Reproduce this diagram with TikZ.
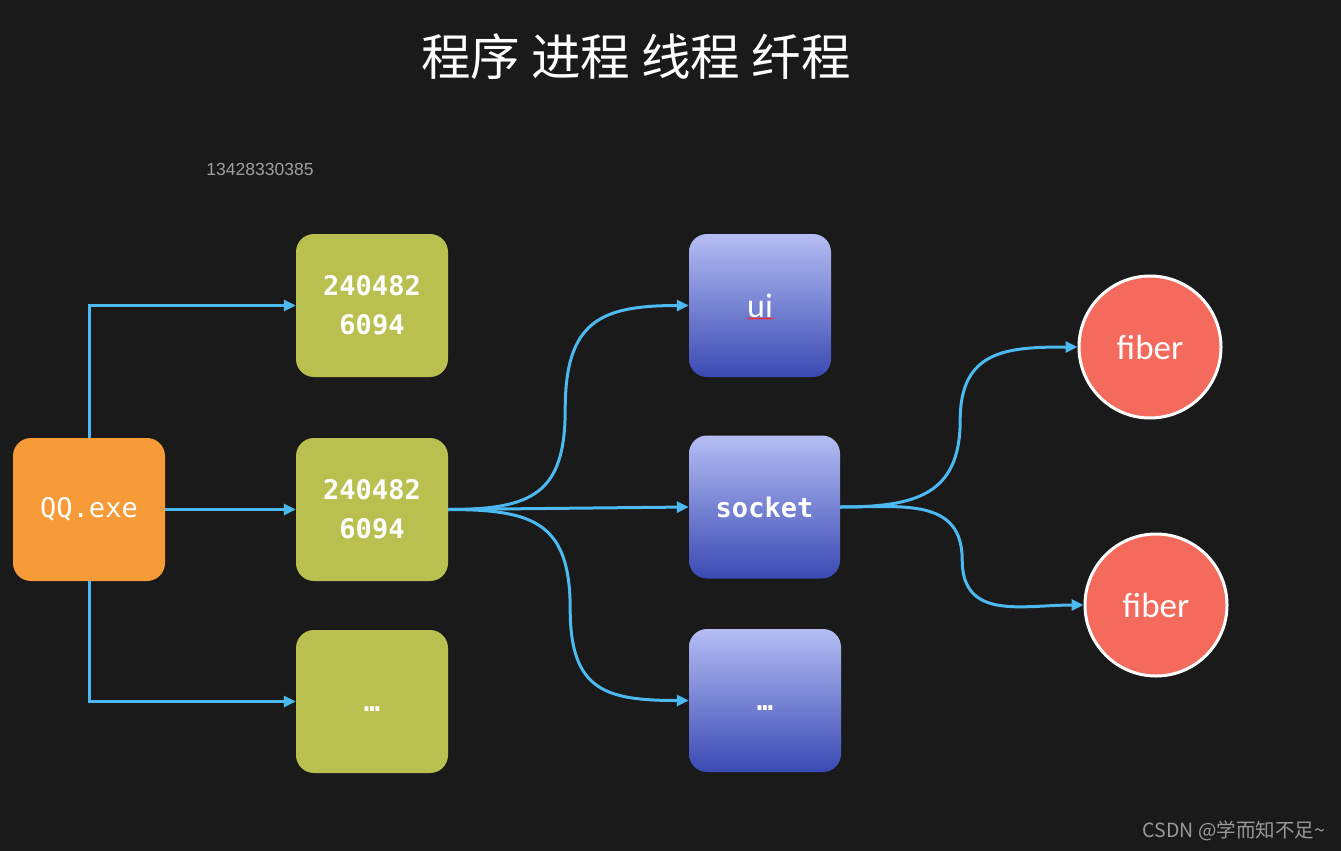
\documentclass[tikz,border=0pt]{standalone}
\usepackage{fontspec}
\setmonofont{DejaVu Sans Mono}
\newfontfamily\cjkfont{Noto Sans CJK SC}
\newfontfamily\labelfont{Carlito}
\newfontfamily\smallfont{Liberation Sans}
\usetikzlibrary{arrows.meta,decorations.pathmorphing}
\definecolor{board}{HTML}{1A1A1A}
\definecolor{qqorange}{HTML}{F79A38}
\definecolor{procgreen}{HTML}{BAC04F}
\definecolor{threadtop}{HTML}{B4BDF3}
\definecolor{threadbot}{HTML}{3A4AB3}
\definecolor{fiberred}{HTML}{F46A5C}
\definecolor{linkblue}{HTML}{4DB9F1}
\newcommand{\moredots}{\smash{\raisebox{-10pt}{…}}}
\begin{document}
\begin{tikzpicture}[x=1pt,y=1pt,
  box/.style={rounded corners=18pt,minimum width=152pt,minimum height=143pt,inner sep=0pt,text=white,align=center},
  exebox/.style={box,fill=qqorange,font=\ttfamily\fontsize{27}{32}\selectfont},
  procbox/.style={box,fill=procgreen,font=\ttfamily\bfseries\fontsize{27}{39}\selectfont},
  threadbox/.style={box,top color=threadtop,bottom color=threadbot,font=\ttfamily\bfseries\fontsize{27}{32}\selectfont},
  fiberball/.style={circle,draw=white,line width=3pt,fill=fiberred,minimum size=142pt,inner sep=0pt,text=white,font=\labelfont\fontsize{35}{38}\selectfont},
  link/.style={draw=linkblue,line width=3pt,-{Triangle[length=12pt,width=11pt]}}]
\fill[board] (0,0) rectangle (1341,-851);
\useasboundingbox (0,0) rectangle (1341,-851);
% title and small texts
\node[text=white,font=\cjkfont\fontsize{49.5}{50}\selectfont] (title) at (636,-57) {程序 进程 线程 纤程};
\node[text=gray!75,font=\smallfont\fontsize{17.5}{18}\selectfont] (qqnum) at (260,-169) {13428330385};
\node[text=gray!80,font=\cjkfont\fontsize{19.5}{20}\selectfont] (mark) at (1234,-831) {CSDN @学而知不足\textasciitilde};
% program
\node[exebox] (qq) at (89,-509.5) {QQ.exe};
% processes
\node[procbox] (p1) at (372,-305.5) {240482\\6094};
\node[procbox] (p2) at (372,-509.5) {240482\\6094};
\node[procbox] (p3) at (372,-701.5) {\moredots};
% threads
\node[threadbox,minimum width=142pt,font=\labelfont\fontsize{34}{38}\selectfont] (t1) at (760,-305.5) {ui};
\node[threadbox,minimum width=151pt] (t2) at (764.5,-507) {socket};
\node[threadbox] (t3) at (765,-700.5) {\moredots};
\draw[red!85!white,line width=0.8pt,decorate,decoration={snake,amplitude=0.7pt,segment length=3pt}]
  ([xshift=-13pt,yshift=-13pt]t1.center) -- ([xshift=14pt,yshift=-13pt]t1.center);
% fibers
\node[fiberball] (f1) at (1150,-347) {fiber};
\node[fiberball] (f2) at (1156,-605) {fiber};
% connectors
\draw[link] (qq.north) |- (p1.west);
\draw[link] (qq.east) -- (p2.west);
\draw[link] (qq.south) |- (p3.west);
\draw[link] (p2.east) to[out=0,in=-90,looseness=1.4] ++(117,100) to[out=90,in=180,looseness=1.4] (t1.west);
\draw[link] (p2.east) -- (t2.west);
\draw[link] (p2.east) to[out=0,in=90,looseness=1.4] ++(122,-100) to[out=-90,in=180,looseness=1.4] (t3.west);
\draw[link] (t2.east) to[out=0,in=-90,looseness=1.3] ++(120,87) to[out=90,in=180,looseness=1.3] (f1.west);
\draw[link] (t2.east) to[out=0,in=90,looseness=1.2] ++(122,-53) to[out=-90,in=180,looseness=1.2] (f2.west);
\end{tikzpicture}
\end{document}
